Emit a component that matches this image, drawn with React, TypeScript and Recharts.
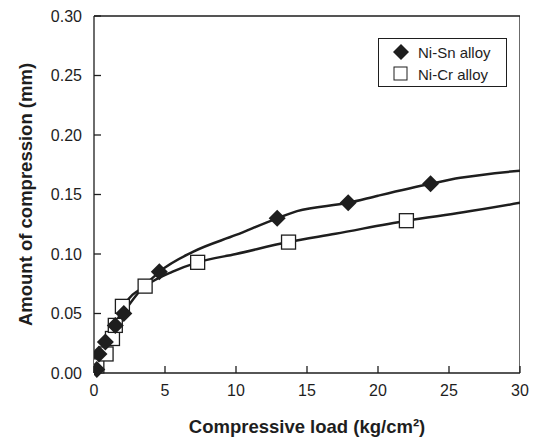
import React from "react";
import { ComposedChart, Line, Scatter, XAxis, YAxis, Legend } from "recharts";

// measured markers
const snLoad = [0.2, 0.35, 0.8, 1.5, 2.1, 4.6, 12.9, 17.9, 23.7];
const snComp = [0.003, 0.016, 0.026, 0.04, 0.05, 0.085, 0.13, 0.143, 0.159];
const crLoad = [0.2, 0.85, 1.3, 1.5, 2.0, 3.6, 7.3, 13.7, 22.0];
const crComp = [0.006, 0.016, 0.029, 0.04, 0.056, 0.073, 0.093, 0.11, 0.128];

// fitted curves
const snCurveLoad = [0.2, 0.8, 1.5, 2.1, 3.3, 4.6, 7, 10, 12.9, 14.3, 17.9, 20, 23.7, 25.8, 30];
const snCurveComp = [0.003, 0.024, 0.04, 0.051, 0.07, 0.085, 0.102, 0.116, 0.13, 0.136, 0.143, 0.149, 0.159, 0.164, 0.17];
const crCurveLoad = [0.2, 0.85, 1.5, 2.2, 3.6, 5.5, 7.3, 10, 13.7, 17, 22, 26, 30];
const crCurveComp = [0.005, 0.018, 0.04, 0.058, 0.073, 0.085, 0.093, 0.1, 0.11, 0.117, 0.128, 0.135, 0.143];

const xTicks = [0, 5, 10, 15, 20, 25, 30];
const yTicks = [0, 0.05, 0.1, 0.15, 0.2, 0.25, 0.3];

// top and right edges of the plot frame
const frameLoad = [0, 30, 30];
const frameComp = [0.3, 0.3, 0];

const toPoints = (xs: number[], ys: number[]) => xs.map((x, i) => ({ x, y: ys[i] }));

const snPoints = toPoints(snLoad, snComp);
const crPoints = toPoints(crLoad, crComp);
const snCurve = toPoints(snCurveLoad, snCurveComp);
const crCurve = toPoints(crCurveLoad, crCurveComp);
const frame = toPoints(frameLoad, frameComp);

const ink = "#1e1e1e";
const font = "'Liberation Sans', Arial, sans-serif";

const Diamond = (props: any) => {
  const { cx, cy } = props;
  const r = 8.5;
  return (
    <polygon
      points={`${cx},${cy - r} ${cx + r},${cy} ${cx},${cy + r} ${cx - r},${cy}`}
      fill={ink}
    />
  );
};

const Square = (props: any) => {
  const { cx, cy } = props;
  const s = 14;
  return (
    <rect x={cx - s / 2} y={cy - s / 2} width={s} height={s} fill="#fff" stroke={ink} strokeWidth={1.3} />
  );
};

const LegendBox = () => (
  <div
    style={{
      border: `1px solid ${ink}`,
      width: 129,
      height: 49,
      boxSizing: "border-box",
      background: "#fff",
      fontFamily: font,
      fontSize: 15,
      color: ink,
      padding: "3px 0 0 13px",
    }}
  >
    <div style={{ display: "flex", alignItems: "center", height: 20 }}>
      <svg width={18} height={18} style={{ marginRight: 8 }}>
        <polygon points="9,1 17,9 9,17 1,9" fill={ink} />
      </svg>
      Ni-Sn alloy
    </div>
    <div style={{ display: "flex", alignItems: "center", height: 20, marginTop: 2 }}>
      <svg width={18} height={18} style={{ marginRight: 8 }}>
        <rect x={2} y={2} width={13} height={13} fill="#fff" stroke={ink} strokeWidth={1} />
      </svg>
      Ni-Cr alloy
    </div>
  </div>
);

export default function App() {
  return (
    <div style={{ position: "absolute", left: 0, top: 0, width: 534, height: 437, background: "#fff" }}>
      <ComposedChart
        width={534}
        height={437}
        margin={{ top: 16, right: 14, left: 0, bottom: 0 }}
        style={{ fontFamily: font }}
      >
        <XAxis
          type="number"
          dataKey="x"
          domain={[0, 30]}
          ticks={xTicks}
          allowDataOverflow
          height={64}
          tickSize={-7}
          tickMargin={19}
          stroke={ink}
          strokeWidth={1.3}
          tick={{ fill: ink, fontSize: 16 }}
          label={{
            value: "Compressive load (kg/cm²)",
            position: "insideBottom",
            offset: 4,
            style: { fontWeight: "bold", fontSize: 18.5, fill: ink },
          }}
        />
        <YAxis
          type="number"
          dataKey="y"
          domain={[0, 0.3]}
          ticks={yTicks}
          width={94}
          tickSize={-7}
          tickMargin={19}
          stroke={ink}
          strokeWidth={1.3}
          tick={{ fill: ink, fontSize: 16 }}
          tickFormatter={(v: number) => v.toFixed(2)}
          label={{
            value: "Amount of compression (mm)",
            angle: -90,
            position: "center",
            dx: -22,
            style: { fontWeight: "bold", fontSize: 18.5, fill: ink, textAnchor: "middle" },
          }}
        />
        <Line data={frame} dataKey="y" type="linear" stroke={ink} strokeWidth={1.3} dot={false} isAnimationActive={false} legendType="none" />
        <Line data={snCurve} dataKey="y" type="monotone" stroke={ink} strokeWidth={2.5} dot={false} isAnimationActive={false} legendType="none" />
        <Line data={crCurve} dataKey="y" type="monotone" stroke={ink} strokeWidth={2.5} dot={false} isAnimationActive={false} legendType="none" />
        <Scatter name="Ni-Cr alloy" data={crPoints} dataKey="y" shape={Square} isAnimationActive={false} />
        <Scatter name="Ni-Sn alloy" data={snPoints} dataKey="y" shape={Diamond} isAnimationActive={false} />
        <Legend
          layout="horizontal"
          verticalAlign="middle"
          align="center"
          content={LegendBox}
          wrapperStyle={{ position: "absolute", left: 378, top: 38, width: 129, height: 49 }}
        />
      </ComposedChart>
    </div>
  );
}
